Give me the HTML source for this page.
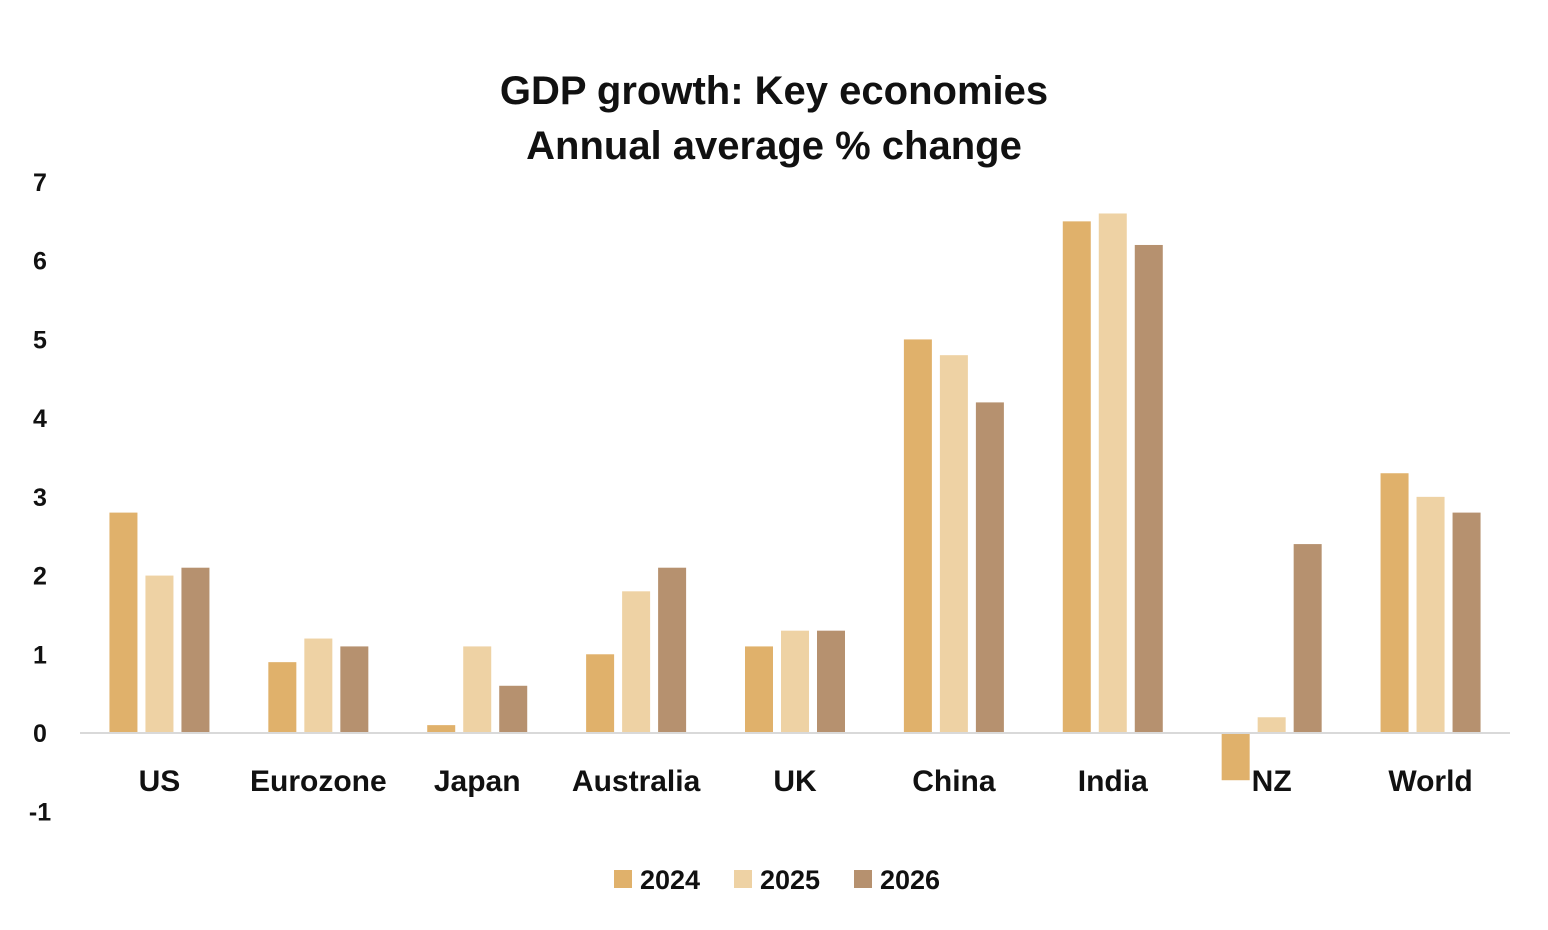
<!DOCTYPE html>
<html><head><meta charset="utf-8"><style>
body{margin:0;background:#fff;}
svg{display:block;font-family:"Liberation Sans",sans-serif;font-weight:bold;}
</style></head><body>
<svg id="chart" width="1548" height="930">
<text x="774" y="104" text-anchor="middle" font-size="40" fill="#111">GDP growth: Key economies</text>
<text x="774" y="159" text-anchor="middle" font-size="40" fill="#111">Annual average % change</text>
<g id="yaxis"></g>
<g id="bars"></g>
<g id="xaxis"></g>
<g id="legend"></g>
</svg>
<script>
const categories=["US","Eurozone","Japan","Australia","UK","China","India","NZ","World"];
const seriesNames=["2024","2025","2026"];
const s2024=[2.8,0.9,0.1,1.0,1.1,5.0,6.5,-0.6,3.3];
const s2025=[2.0,1.2,1.1,1.8,1.3,4.8,6.6,0.2,3.0];
const s2026=[2.1,1.1,0.6,2.1,1.3,4.2,6.2,2.4,2.8];
const yTicks=[-1,0,1,2,3,4,5,6,7];
const colors=["#e0b16b","#eed2a4","#b6916f"];
const NS="http://www.w3.org/2000/svg";
const x0=80,x1=1510,y0=733,unit=(733-182)/7;
const y=v=>y0-v*unit;
const band=(x1-x0)/categories.length;
const cx=i=>x0+band*(i+0.5);
function mk(tag,attrs,parent){const e=document.createElementNS(NS,tag);for(const k in attrs)e.setAttribute(k,attrs[k]);parent.appendChild(e);return e;}
const yg=document.getElementById('yaxis'),bg=document.getElementById('bars'),xg=document.getElementById('xaxis'),lg=document.getElementById('legend');
yTicks.forEach(t=>{const e=mk('text',{x:40,y:y(t)+9,'text-anchor':'middle','font-size':25,fill:'#111'},yg);e.textContent=t;

});
const all=[s2024,s2025,s2026];
all.forEach((s,si)=>{s.forEach((v,i)=>{const bx=cx(i)+(si-1)*36-14;const r=mk('rect',{x:bx,y:Math.min(y(v),y0),width:28,height:Math.abs(y(v)-y0),fill:colors[si]},bg);

});});
const ax=mk('line',{x1:x0,x2:x1,y1:y0,y2:y0,stroke:'#d9d9d9','stroke-width':2},xg);


categories.forEach((c,i)=>{const e=mk('text',{x:cx(i),y:791,'text-anchor':'middle','font-size':30,fill:'#111'},xg);e.textContent=c;

});
seriesNames.forEach((n,si)=>{const lx=614+si*120;const r=mk('rect',{x:lx,y:870,width:18,height:18,fill:colors[si]},lg);


const t=mk('text',{x:lx+26,y:889,'font-size':27,fill:'#111'},lg);t.textContent=n;

});
</script>
</body></html>
